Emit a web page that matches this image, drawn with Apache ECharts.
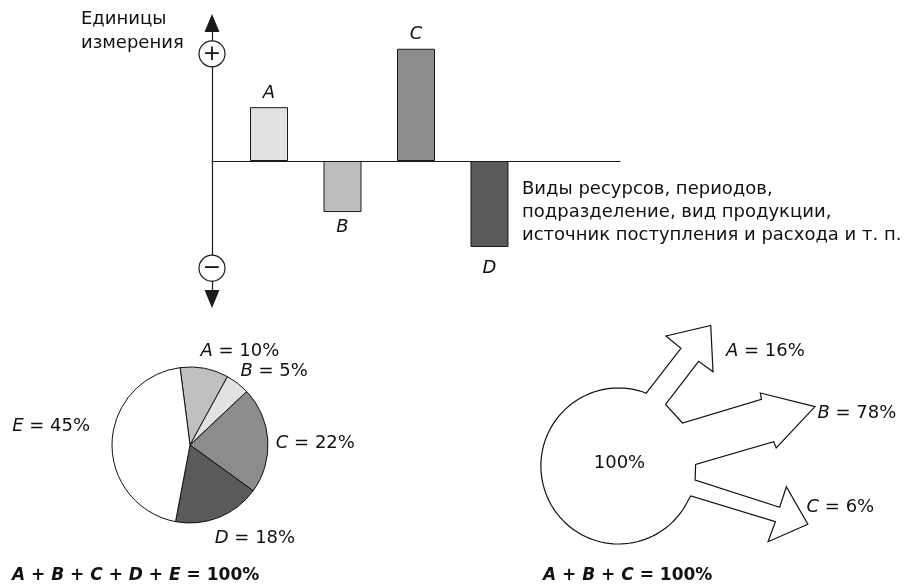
<!DOCTYPE html>
<html>
<head>
<meta charset="utf-8">
<script src="https://cdn.jsdelivr.net/npm/echarts@6/dist/echarts.min.js"></script>
<style>html,body{margin:0;padding:0;background:#fff}#c{width:917px;height:588px}</style>
</head>
<body>
<div id="c"></div>
<script>
// ---------------- data ----------------
const barCategories = ['A', 'B', 'C', 'D'];
const barValues = [1.17, -1.11, 2.44, -1.87];
const signMarks = ['+', '\u2212'];
const signValues = [2.33, -2.33];
const yAxisTitle = 'Единицы\nизмерения';
const xAxisTitle = 'Виды ресурсов, периодов,\nподразделение, вид продукции,\nисточник поступления и расхода и т. п.';

const pieNames = ['A', 'B', 'C', 'D', 'E'];
const pieValues = [10, 5, 22, 18, 45];

const flowNames = ['A', 'B', 'C'];
const flowValues = [16, 78, 6];
const flowTotal = 100;

// ---------------- styles / layout ----------------
const FONT = 'DejaVu Sans';
const INK = '#111';
const barColors = ['#e2e2e2', '#bdbdbd', '#8c8c8c', '#5a5a5a'];
const barLabelDistance = [5, 6, 5, 12];
const pieColors = ['#c0c0c0', '#e2e2e2', '#8c8c8c', '#5a5a5a', '#ffffff'];
const pieLabelNudge = [[-7, -1], [-7, 1], [-8, 4], [-10, 6], [-6, -16]];
const xMin = 0.224, xMax = 5.776;

// flow diagram outline (shape geometry, local px units around the circle centre)
const flowRadius = 78;
const flowArrowPath = [
  [27.7, -72.7], [62.7, -117.7], [47.7, -130], [92.7, -140.5], [95, -94.3], [80.5, -104.7],
  [47.3, -61.5], [64.3, -43], [143.7, -66.7], [142.5, -73], [197.5, -59.3], [158.5, -18],
  [156, -24.3], [77.5, -1.5], [77, 14], [162, 41.3], [168.7, 20.7], [190.3, 58.3],
  [150.3, 75.7], [157.7, 55.7], [72.7, 30]
];
const flowLabelAnchors = [[108, -114.5], [200, -53], [189, 41]];
const flowCentreAnchor = [1, -2.5];

function flowOutline() {
  const pts = flowArrowPath.slice();
  const a0 = Math.atan2(30, 72.7), a1 = Math.atan2(-72.7, 27.7) + 2 * Math.PI;
  const n = 90;
  for (let k = 1; k < n; k++) {
    const a = a0 + (a1 - a0) * k / n;
    pts.push([flowRadius * Math.cos(a), flowRadius * Math.sin(a)]);
  }
  return pts;
}

const italicRich = {
  i: { fontStyle: 'italic', fontSize: 18, fontFamily: FONT, color: INK },
  n: { fontSize: 18, fontFamily: FONT, color: INK }
};
const formulaRich = {
  bi: { fontStyle: 'italic', fontWeight: 'bold', fontSize: 17, fontFamily: FONT, color: INK },
  r: { fontSize: 17, fontFamily: FONT, color: INK },
  b: { fontWeight: 'bold', fontSize: 17, fontFamily: FONT, color: INK }
};
function formula(names, total) {
  return names.map(n => '{bi|' + n + '}').join('{r| + }') + '{r| = }{b|' + total + '%}';
}
const pieTotal = pieValues.reduce((s, v) => s + v, 0);

const chart = echarts.init(document.getElementById('c'), null, { renderer: 'canvas' });
const option = {
  animation: false,
  backgroundColor: '#fff',
  textStyle: { fontFamily: FONT, color: INK },
  title: [
    { text: yAxisTitle, left: 81, top: 7, padding: 0,
      textStyle: { fontSize: 18, fontWeight: 'normal', fontFamily: FONT, color: INK, lineHeight: 24 } },
    { text: xAxisTitle, left: 522, top: 178, padding: 0,
      textStyle: { fontSize: 18, fontWeight: 'normal', fontFamily: FONT, color: INK, lineHeight: 23 } },
    { text: formula(pieNames, pieTotal), left: 12, top: 567, padding: 0,
      textStyle: { rich: formulaRich, fontSize: 17, fontFamily: FONT } },
    { text: formula(flowNames, flowValues.reduce((s, v) => s + v, 0)), left: 543, top: 567, padding: 0,
      textStyle: { rich: formulaRich, fontSize: 17, fontFamily: FONT } }
  ],
  grid: [
    { left: 212, top: 23, width: 408, height: 276 },
    { left: 519, top: 300, width: 400, height: 260 }
  ],
  xAxis: [
    { type: 'value', gridIndex: 0, min: xMin, max: xMax,
      axisLine: { show: true, onZero: true, lineStyle: { color: '#1a1a1a', width: 1.2 } },
      axisTick: { show: false }, axisLabel: { show: false }, splitLine: { show: false } },
    { type: 'value', gridIndex: 1, min: -100, max: 300, show: false }
  ],
  yAxis: [
    { type: 'value', gridIndex: 0, min: -3, max: 3,
      axisLine: { show: true, symbol: ['triangle', 'triangle'], symbolSize: [15, 18],
        lineStyle: { color: '#1a1a1a', width: 1.2 } },
      axisTick: { show: false }, axisLabel: { show: false }, splitLine: { show: false } },
    { type: 'value', gridIndex: 1, min: -166, max: 94, inverse: true, show: false }
  ],
  series: [
    {
      type: 'bar', xAxisIndex: 0, yAxisIndex: 0, barWidth: 38,
      data: barValues.map((v, i) => ({
        value: [i + 1, v], name: barCategories[i],
        itemStyle: { color: barColors[i] },
        label: { position: v >= 0 ? 'top' : 'bottom', distance: barLabelDistance[i] }
      })),
      itemStyle: { borderColor: '#1a1a1a', borderWidth: 1 },
      label: { show: true, formatter: '{b}', fontStyle: 'italic', fontSize: 18, fontFamily: FONT, color: INK },
      emphasis: { disabled: true }
    },
    {
      type: 'scatter', xAxisIndex: 0, yAxisIndex: 0, clip: false,
      data: signValues.map((v, i) => ({ value: [xMin, v], name: signMarks[i] })),
      symbol: 'circle', symbolSize: 26, z: 5,
      itemStyle: { color: '#fff', borderColor: '#1a1a1a', borderWidth: 1.2, opacity: 1 },
      label: { show: true, position: 'inside', formatter: '{b}', fontSize: 22, fontFamily: FONT, color: INK },
      emphasis: { disabled: true }
    },
    {
      type: 'pie', center: [190, 445], radius: 78, startAngle: 97.3, clockwise: true,
      avoidLabelOverlap: false,
      data: pieNames.map((n, i) => ({ name: n, value: pieValues[i], itemStyle: { color: pieColors[i] } })),
      itemStyle: { borderColor: '#111', borderWidth: 1 },
      label: { show: true, position: 'outside', distanceToLabelLine: 0,
        formatter: p => '{i|' + p.name + '}{n| = ' + p.value + '%}', rich: italicRich },
      labelLine: { show: false, length: 16, length2: 0 },
      labelLayout: p => ({ dx: pieLabelNudge[p.dataIndex][0], dy: pieLabelNudge[p.dataIndex][1] }),
      emphasis: { disabled: true }
    },
    {
      type: 'custom', xAxisIndex: 1, yAxisIndex: 1, clip: false,
      data: [[0, 0]],
      renderItem: function (params, api) {
        const pts = flowOutline().map(p => api.coord(p));
        return { type: 'polygon', shape: { points: pts },
          style: { fill: '#fff', stroke: '#111', lineWidth: 1.2, lineJoin: 'miter' } };
      }
    },
    {
      type: 'scatter', xAxisIndex: 1, yAxisIndex: 1, symbolSize: 0, z: 5,
      itemStyle: { opacity: 1 },
      data: flowNames.map((n, i) => ({ value: flowLabelAnchors[i], name: n, v: flowValues[i] }))
        .concat([{ value: flowCentreAnchor, name: '', v: flowTotal, centre: true }]),
      label: {
        show: true, position: 'right', distance: 0, color: INK, opacity: 1,
        formatter: p => p.data.centre ? '{n|' + p.data.v + '%}' : '{i|' + p.name + '}{n| = ' + p.data.v + '%}',
        rich: italicRich
      },
      emphasis: { disabled: true }
    }
  ]
};
// centre label of the flow diagram is centred on its anchor
option.series[4].data[3].label = { position: 'inside' };
chart.setOption(option);
</script>
</body>
</html>
